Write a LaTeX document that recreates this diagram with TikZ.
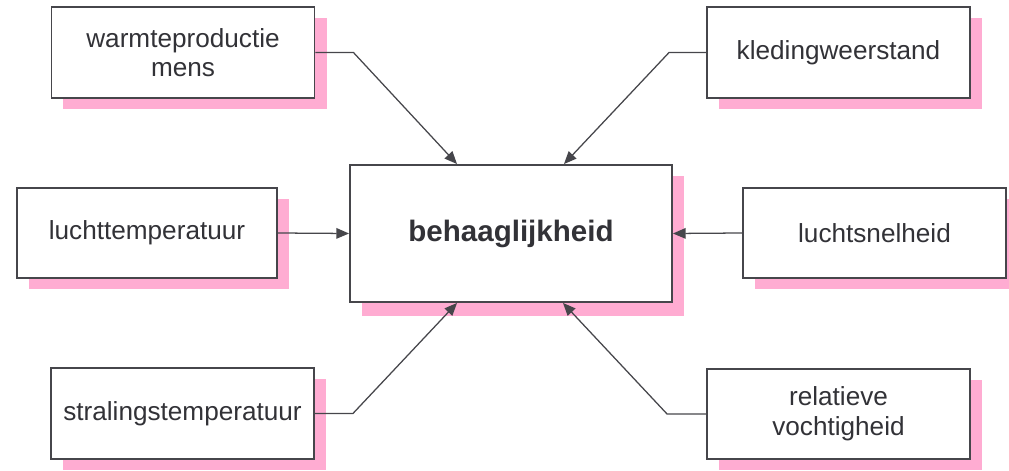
\documentclass[tikz,border=0pt]{standalone}
\usepackage{fontspec}
\setmainfont{Liberation Sans}
\usetikzlibrary{shadows,arrows.meta,calc}
\definecolor{shadowpink}{RGB}{255,172,210}
\definecolor{linegray}{RGB}{70,70,75}
\definecolor{textgray}{RGB}{50,50,55}
\begin{document}
\begin{tikzpicture}[x=0.025cm,y=-0.025cm,
    factor/.style={draw=linegray, line width=1.3pt, fill=white, text=textgray, align=center,
      minimum width=6.575cm, minimum height=2.275cm, inner sep=0pt,
      font=\fontsize{18.6}{21}\selectfont,
      drop shadow={shadow xshift=0.3cm, shadow yshift=-0.27cm, fill=shadowpink, opacity=1}},
    link/.style={draw=linegray, line width=0.9pt, -{Triangle[length=9pt,width=7.5pt]}}]
    \useasboundingbox (0,0) rectangle (1009,471);

    % central node
    \node[factor, minimum width=8.05cm, minimum height=3.425cm,
      font=\fontsize{21}{24}\selectfont\bfseries,
      drop shadow={shadow xshift=0.3cm, shadow yshift=-0.35cm, fill=shadowpink, opacity=1}]
      (centre) at (511,233.5) {behaaglijkheid};

    % factors
    \node[factor] (warmte) at (183,52.5) {warmteproductie\\mens};
    \node[factor] (kleding) at (838.5,52.5) {kledingweerstand};
    \node[factor, minimum width=6.5cm, minimum height=2.25cm] (luchttemp) at (147,233) {luchttemperatuur};
    \node[factor, minimum height=2.25cm] (snelheid) at (874.5,233) {luchtsnelheid};
    \node[factor] (straling) at (182.5,413.5) {stralingstemperatuur};
    \node[factor, minimum height=2.25cm] (vocht) at (838.5,414) {relatieve\\vochtigheid};

    % connectors
    \draw[link] (warmte.east) -- ++(38,0) -- ($(centre.north west)+(108,0)$);
    \draw[link] (kleding.west) -- ++(-37,0) -- ($(centre.north east)+(-109,0)$);
    \draw[link] (luchttemp.east) -- (centre.west);
    \draw[link] (snelheid.west) -- (centre.east);
    \draw[link] (straling.east) -- ++(38,0) -- ($(centre.south west)+(108,0)$);
    \draw[link] (vocht.west) -- ++(-39,0) -- ($(centre.south east)+(-110,0)$);
\end{tikzpicture}
\end{document}
